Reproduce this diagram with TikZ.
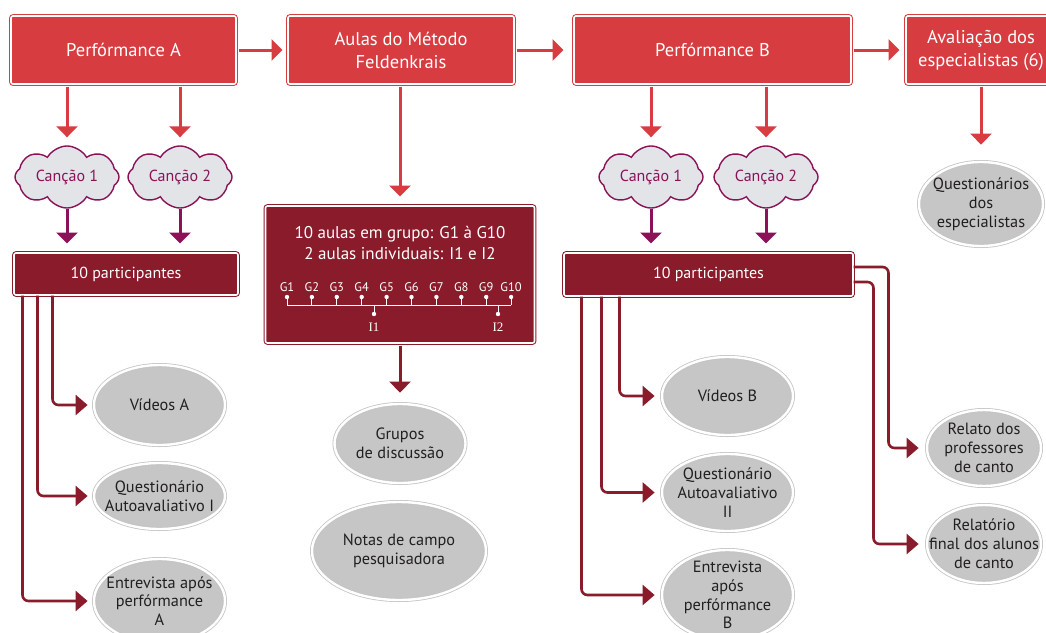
\documentclass[tikz,border=0pt]{standalone}
\usepackage{fontspec}
\setmainfont{PT Sans}
\newfontfamily\serifI{Liberation Serif}
\usetikzlibrary{shapes.symbols,shapes.geometric,arrows.meta,calc}
\definecolor{boxred}{HTML}{D63C40}
\definecolor{darkred}{HTML}{8A1B2B}
\definecolor{purp}{HTML}{8B1259}
\definecolor{cloudfill}{HTML}{E2E4E8}
\definecolor{ellfill}{HTML}{C6C6C6}
\definecolor{ringgray}{HTML}{C4C4C4}
\definecolor{inkc}{HTML}{231F20}
\begin{document}
\begin{tikzpicture}[x=1pt,y=-1pt,
  topbox/.style={rectangle, rounded corners=2pt, fill=boxred, draw=boxred, double=white, double distance=1.6pt, line width=1pt, text=white, font=\fontsize{18.5}{23}\selectfont, align=center, inner sep=0pt, minimum height=68pt},
  darkbox/.style={rectangle, rounded corners=2pt, fill=darkred, draw=darkred, double=white, double distance=1.6pt, line width=1pt, text=white, font=\fontsize{16}{20}\selectfont, align=center, inner sep=0pt},
  songcloud/.style={cloud, cloud puffs=8, cloud puff arc=120, cloud ignores aspect, fill=cloudfill, draw=purp, line width=1.4pt, text=purp, font=\fontsize{16}{18}\selectfont, minimum width=104pt, minimum height=62pt, inner sep=0pt},
  oval/.style={ellipse, fill=ellfill, draw=ringgray, double=white, double distance=2.4pt, line width=0.8pt, text=inkc, font=\fontsize{16.3}{18.8}\selectfont, align=center, inner sep=-15pt},
  redarr/.style={draw=boxred, line width=3pt, -{Triangle[width=21pt,length=11pt]}},
  purarr/.style={draw=purp, line width=3pt, -{Triangle[width=21pt,length=11pt]}},
  darr/.style={draw=darkred, line width=3pt, -{Triangle[width=21pt,length=11pt]}},
  conn/.style={draw=darkred, line width=2.6pt, rounded corners=6pt, -{Triangle[width=20pt,length=12pt]}},
  glab/.style={text=white, font=\fontsize{12.5}{14}\selectfont, inner sep=0pt},
  ilab/.style={text=white, font=\serifI\fontsize{13}{14}\selectfont, inner sep=0pt},
  tl/.style={draw=white, line width=1pt},
]
\useasboundingbox (0,0) rectangle (1046,632);
\clip (0,0) rectangle (1046,632);
\fill[white] (0,0) rectangle (1046,632);

% top row
\node[topbox, minimum width=225pt] (pA) at (123.5,50) {Perfórmance A};
\node[topbox, minimum width=226pt] (aul) at (401,50) {Aulas do Método\\Feldenkrais};
\node[topbox, minimum width=277pt] (pB) at (712.5,50) {Perfórmance B};
\node[topbox, minimum width=150pt] (av) at (981,50) {Avaliação dos\\especialistas (6)};

% clouds
\node[songcloud] (cA1) at (67,177) {Canção 1};
\node[songcloud] (cA2) at (180,177) {Canção 2};
\node[songcloud] (cB1) at (651,177) {Canção 1};
\node[songcloud] (cB2) at (766,177) {Canção 2};

% participant boxes
\node[darkbox, minimum width=224pt, minimum height=42pt] (partA) at (126,274) {10 participantes};
\node[darkbox, minimum width=289pt, minimum height=43pt] (partB) at (708.5,274.5) {10 participantes};

% lessons box
\node[darkbox, minimum width=269pt, minimum height=137pt] (les) at (400,274.5) {};
\node[text=white, font=\fontsize{17}{20.5}\selectfont, align=center, inner sep=0pt] (lestxt) at (400,243) {10 aulas em grupo: G1 à G10\\2 aulas individuais: I1 e I2};
\foreach \i in {1,...,10} {
  \coordinate (g\i) at ({287+(\i-1)*24.9},305);
  \node[glab] (gl\i) at ({287+(\i-1)*24.9},287) {G\i};
  \draw[tl] (g\i) -- ++(0,-8);
  \fill[white] (g\i) ++(0,-8) circle (2.2pt);
}
\draw[tl] (g1) -- (g10);
\coordinate (i1) at (374,305);
\coordinate (i2) at (498,305);
\draw[tl] (i1) -- ++(0,9);
\fill[white] (i1) ++(0,9) circle (2.2pt);
\draw[tl] (i2) -- ++(0,9);
\fill[white] (i2) ++(0,9) circle (2.2pt);
\node[ilab] (il1) at (374,327) {I1};
\node[ilab] (il2) at (498,327) {I2};

% ovals
\node[oval, minimum width=131pt, minimum height=80pt] (vidA) at (159.5,405) {Vídeos A};
\node[oval, minimum width=131pt, minimum height=66pt] (qA) at (159.5,496) {Questionário\\Autoavaliativo I};
\node[oval, minimum width=131pt, minimum height=84pt] (eA) at (159.5,601) {Entrevista após\\perfórmance\\A};
\node[oval, minimum width=131pt, minimum height=79pt] (grp) at (400,443.5) {Grupos\\de discussão};
\node[oval, minimum width=174pt, minimum height=98pt] (notas) at (399,551) {Notas de campo\\pesquisadora};
\node[oval, minimum width=131pt, minimum height=78pt] (vidB) at (727.5,396) {Vídeos B};
\node[oval, minimum width=131pt, minimum height=77pt] (qB) at (727.5,492.5) {Questionário\\Autoavaliativo\\II};
\node[oval, minimum width=131pt, minimum height=90pt] (eB) at (727.5,595) {Entrevista\\após\\perfórmance\\B};
\node[oval, minimum width=114pt, minimum height=76pt] (rel) at (984,448) {Relato dos\\professores\\de canto};
\node[oval, minimum width=114pt, minimum height=78pt] (relf) at (984,544) {Relatório\\final dos alunos\\de canto};
\node[oval, minimum width=124pt, minimum height=84pt] (qE) at (981,204) {Questionários\\dos\\especialistas};

% top horizontal arrows
\draw[redarr, shorten <=2pt, shorten >=5pt] (pA) -- (aul);
\draw[redarr, shorten <=2pt, shorten >=10pt] (aul) -- (pB);
\draw[redarr, shorten <=2pt, shorten >=6pt] (pB) -- (av);

% down to clouds
\foreach \c/\b in {cA1/pA, cA2/pA, cB1/pB, cB2/pB} {
  \draw[redarr, shorten <=2pt, shorten >=8pt] (\b.south -| \c.north) -- (\c.north);
}
\foreach \c/\b in {cA1/partA, cA2/partA, cB1/partB, cB2/partB} {
  \draw[purarr, shorten >=9pt] (\c.south) -- (\c.south |- \b.north);
}

% lessons
\draw[redarr, shorten <=2pt, shorten >=9pt] (aul.south -| les.north) -- (les.north);
\draw[darr, shorten <=2pt, shorten >=11pt] (les.south) -- (grp.north);
\draw[redarr, shorten <=2pt, shorten >=17pt] (av.south -| qE.north) -- (qE.north);

% participants A
\draw[conn, shorten >=6pt] ([xshift=39pt]partA.south west) |- (vidA);
\draw[conn, shorten >=6pt] ([xshift=24pt]partA.south west) |- (qA);
\draw[conn, shorten >=6pt] ([xshift=9pt]partA.south west) |- (eA);

% participants B
\draw[conn, shorten >=7pt] ([xshift=56pt]partB.south west) |- (vidB);
\draw[conn, shorten >=7pt] ([xshift=38pt]partB.south west) |- (qB);
\draw[conn, shorten >=7pt] ([xshift=18pt]partB.south west) |- (eB);
\draw[conn, shorten >=8pt] ([yshift=7.5pt]partB.east) -- ++(35,0) |- (rel);
\draw[conn, shorten >=8pt] ([yshift=-7.5pt]partB.east) -- ++(20,0) |- (relf);
\end{tikzpicture}
\end{document}
